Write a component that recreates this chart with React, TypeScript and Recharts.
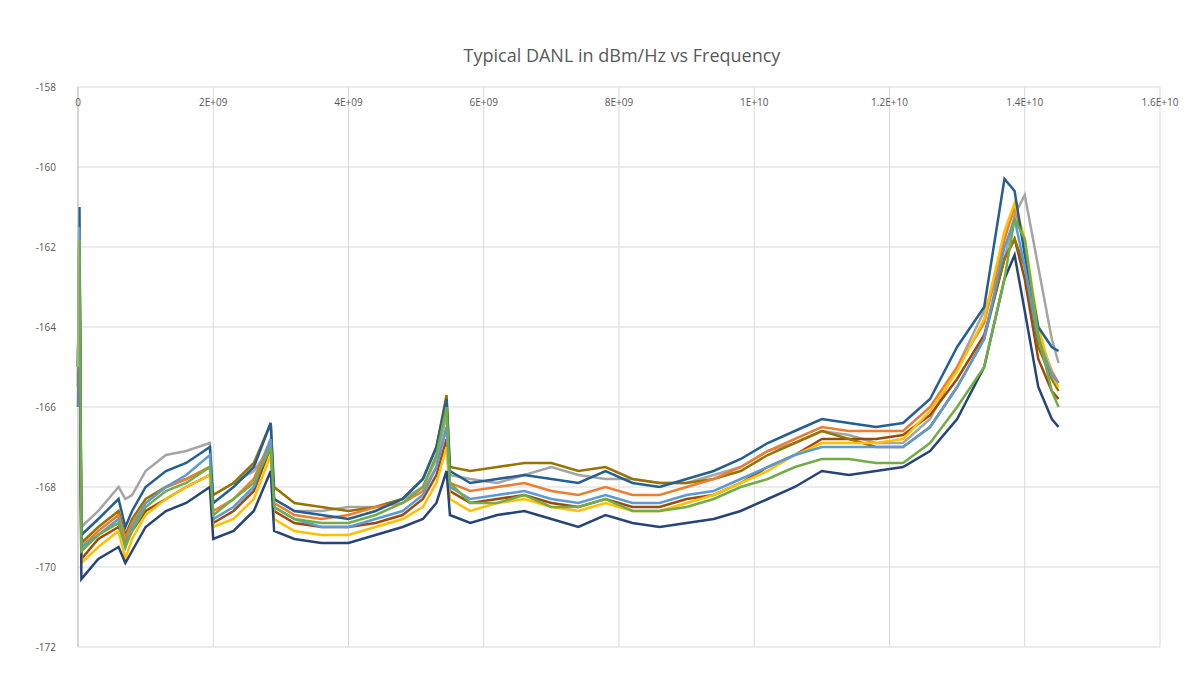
import { LineChart, Line, XAxis, YAxis, CartesianGrid } from 'recharts'

const freqGHz = [0, 0.02, 0.05, 0.3, 0.6, 0.7, 0.8, 1.0, 1.3, 1.6, 1.95, 2.0, 2.3, 2.6, 2.85, 2.9, 3.2, 3.6, 4.0, 4.4, 4.8, 5.1, 5.3, 5.45, 5.5, 5.8, 6.2, 6.6, 7.0, 7.4, 7.8, 8.2, 8.6, 9.0, 9.4, 9.8, 10.2, 10.6, 11.0, 11.4, 11.8, 12.2, 12.6, 13.0, 13.4, 13.7, 13.85, 14.0, 14.2, 14.4, 14.5]

const gray = [-165, -161, -169, -168.6, -168, -168.3, -168.2, -167.6, -167.2, -167.1, -166.9, -168.2, -167.9, -167.6, -167, -168.3, -168.6, -168.6, -168.5, -168.5, -168.3, -168, -167.3, -166.2, -167.7, -167.8, -167.9, -167.7, -167.5, -167.7, -167.8, -167.8, -167.9, -167.9, -167.7, -167.5, -167.1, -166.9, -166.6, -166.7, -166.9, -166.9, -166.3, -165, -163.6, -162.3, -161.2, -160.7, -162.5, -164.3, -164.9]
const brown = [-165.5, -162, -169.8, -169.3, -169, -169.4, -169.1, -168.6, -168.3, -168, -167.7, -168.9, -168.6, -168.1, -167, -168.6, -168.9, -169, -169, -168.9, -168.7, -168.3, -167.7, -166.8, -168.1, -168.4, -168.3, -168.2, -168.4, -168.5, -168.3, -168.5, -168.5, -168.3, -168.2, -167.9, -167.5, -167.2, -166.8, -166.8, -166.8, -166.7, -166.2, -165.3, -164.2, -162.3, -161.8, -162.8, -164.8, -165.6, -165.8]
const gold = [-165, -161.5, -169.4, -169, -168.6, -169.2, -168.8, -168.3, -168, -167.8, -167.5, -168.2, -167.9, -167.4, -166.4, -168, -168.4, -168.5, -168.6, -168.5, -168.3, -167.8, -167, -165.7, -167.5, -167.6, -167.5, -167.4, -167.4, -167.6, -167.5, -167.8, -167.9, -167.9, -167.8, -167.6, -167.2, -166.9, -166.6, -166.8, -167, -167, -166.5, -165.5, -164.3, -162.3, -161.8, -162.5, -164.5, -165.3, -165.6]
const orange = [-165.3, -161.6, -169.5, -169.1, -168.7, -169.3, -168.9, -168.4, -168, -167.8, -167.5, -168.6, -168.3, -167.8, -166.8, -168.4, -168.7, -168.8, -168.7, -168.5, -168.4, -168.1, -167.5, -166.5, -167.9, -168.1, -168, -167.9, -168.1, -168.2, -168, -168.2, -168.2, -168, -167.8, -167.5, -167.1, -166.8, -166.5, -166.6, -166.6, -166.6, -166, -165, -163.9, -161.8, -161, -162, -164.2, -165.1, -165.4]
const yellow = [-165.5, -161.8, -169.9, -169.5, -169.1, -169.8, -169.3, -168.7, -168.3, -168, -167.7, -169, -168.8, -168.3, -167.2, -168.8, -169.1, -169.2, -169.2, -169, -168.8, -168.5, -167.9, -167, -168.3, -168.6, -168.4, -168.3, -168.5, -168.6, -168.4, -168.6, -168.6, -168.4, -168.2, -167.9, -167.6, -167.2, -166.9, -166.9, -166.9, -166.8, -166.1, -165.1, -163.8, -161.6, -160.9, -161.8, -164, -165.2, -165.5]
const blue = [-165, -161, -169.2, -168.8, -168.3, -169, -168.6, -168, -167.6, -167.4, -167, -168.4, -168, -167.5, -166.4, -168.3, -168.6, -168.7, -168.8, -168.6, -168.3, -167.8, -167, -165.8, -167.6, -167.9, -167.8, -167.7, -167.8, -167.9, -167.6, -167.9, -168, -167.8, -167.6, -167.3, -166.9, -166.6, -166.3, -166.4, -166.5, -166.4, -165.8, -164.5, -163.5, -160.3, -160.6, -162.2, -164, -164.5, -164.6]
const lightBlue = [-165, -161.5, -169.5, -169.2, -168.8, -169.5, -169, -168.4, -168, -167.7, -167.2, -168.8, -168.5, -168, -166.8, -168.5, -168.8, -169, -169, -168.8, -168.6, -168.2, -167.5, -166.5, -168, -168.3, -168.2, -168.1, -168.3, -168.4, -168.2, -168.4, -168.4, -168.2, -168.1, -167.8, -167.5, -167.2, -167, -167, -167, -167, -166.5, -165.5, -164.3, -162, -161.3, -162.5, -164.3, -165.2, -165.4]
const navy = [-166, -162.5, -170.3, -169.8, -169.5, -169.9, -169.6, -169, -168.6, -168.4, -168, -169.3, -169.1, -168.6, -167.6, -169.1, -169.3, -169.4, -169.4, -169.2, -169, -168.8, -168.4, -167.6, -168.7, -168.9, -168.7, -168.6, -168.8, -169, -168.7, -168.9, -169, -168.9, -168.8, -168.6, -168.3, -168, -167.6, -167.7, -167.6, -167.5, -167.1, -166.3, -165, -162.8, -162.2, -163.6, -165.5, -166.3, -166.5]
const green = [-165, -161.8, -169.6, -169.2, -168.9, -169.5, -169.1, -168.5, -168.1, -167.9, -167.5, -168.7, -168.3, -167.9, -167, -168.5, -168.8, -168.9, -168.9, -168.7, -168.4, -168, -167.2, -166, -167.9, -168.4, -168.4, -168.2, -168.5, -168.5, -168.3, -168.6, -168.6, -168.5, -168.3, -168, -167.8, -167.5, -167.3, -167.3, -167.4, -167.4, -166.9, -166, -165, -162.8, -161.3, -161.8, -164.2, -165.6, -166]

const xTicks = [0, 2e9, 4e9, 6e9, 8e9, 1e10, 1.2e10, 1.4e10, 1.6e10]
const xTickLabels = ['0', '2E+09', '4E+09', '6E+09', '8E+09', '1E+10', '1.2E+10', '1.4E+10', '1.6E+10']
const yTicks = [-172, -170, -168, -166, -164, -162, -160, -158]

const seriesList = [
  { key: 'gray', values: gray, color: '#A5A5A5' },
  { key: 'brown', values: brown, color: '#9E480E' },
  { key: 'gold', values: gold, color: '#997300' },
  { key: 'orange', values: orange, color: '#ED7D31' },
  { key: 'yellow', values: yellow, color: '#FFC000' },
  { key: 'blue', values: blue, color: '#255E91' },
  { key: 'lightBlue', values: lightBlue, color: '#5B9BD5' },
  { key: 'navy', values: navy, color: '#264478' },
  { key: 'green', values: green, color: '#70AD47' },
]

const data = freqGHz.map((f, i) => {
  const row: Record<string, number> = { freq: f * 1e9 }
  seriesList.forEach(s => { row[s.key] = s.values[i] })
  return row
})

const font = '"Open Sans", sans-serif'

// x labels sit just under the top gridline, like Excel's axis crossing at -158
function TopTick({ x, y, payload }: any) {
  const idx = xTicks.indexOf(payload.value)
  return (
    <text x={x} y={y + 27} textAnchor="middle" fontSize={10} fill="#595959" fontFamily={font}>
      {xTickLabels[idx]}
    </text>
  )
}

export default function App() {
  return (
    <div style={{ position: 'absolute', left: 0, top: 0, width: 1200, height: 679, background: '#fff' }}>
      <div style={{ position: 'absolute', top: 43, width: 1244, textAlign: 'center', fontFamily: font, fontSize: 18, color: '#595959' }}>
        Typical DANL in dBm/Hz vs Frequency
      </div>
      <LineChart width={1200} height={679} data={data} margin={{ top: 67, right: 40, bottom: 32, left: 0 }}>
        <CartesianGrid stroke="#d9d9d9" />
        <XAxis dataKey="freq" type="number" domain={[0, 1.6e10]} ticks={xTicks} orientation="top" height={20}
          axisLine={false} tickLine={false} tick={<TopTick />} interval={0} />
        <YAxis type="number" domain={[-172, -158]} ticks={yTicks} width={78} axisLine={{ stroke: '#bfbfbf' }}
          tickLine={false} tick={{ fontSize: 10, fill: '#595959', fontFamily: font }} tickMargin={16} />
        {seriesList.map(s => (
          <Line key={s.key} dataKey={s.key} stroke={s.color} strokeWidth={2.5} dot={false}
            type="linear" isAnimationActive={false} />
        ))}
      </LineChart>
    </div>
  )
}
